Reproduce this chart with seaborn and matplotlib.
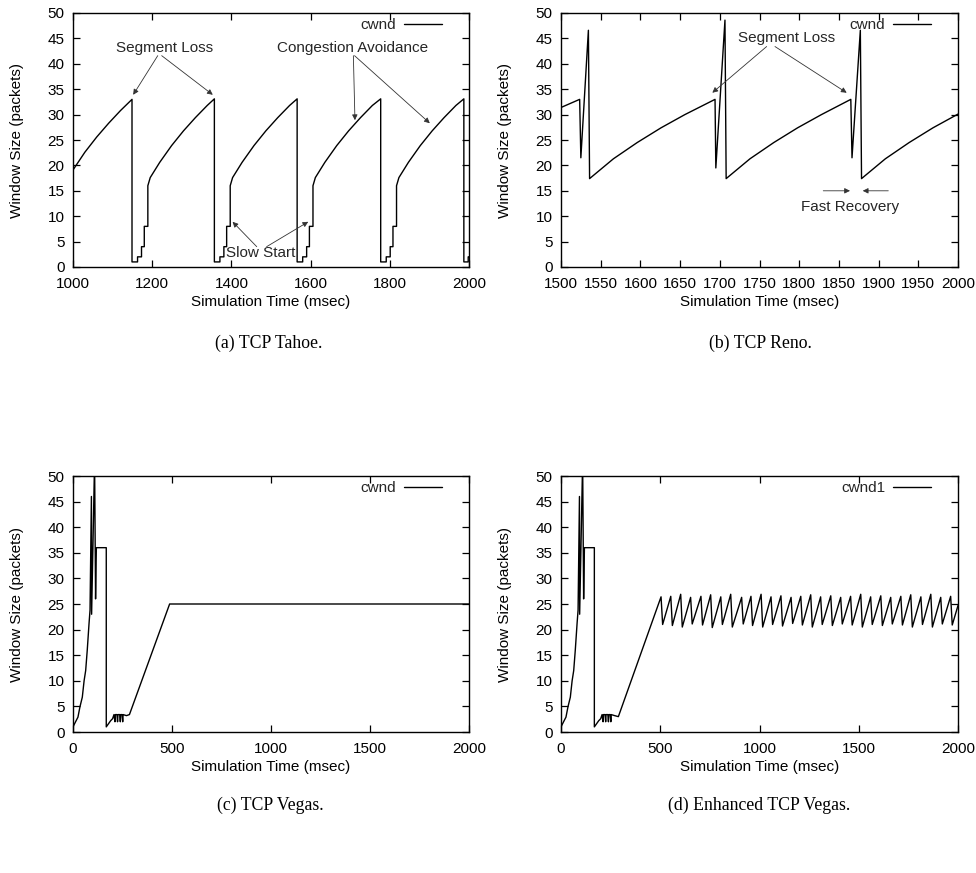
import matplotlib
matplotlib.use("Agg")
import matplotlib.pyplot as plt
import seaborn as sns

# ---------------- data ----------------
# (a) TCP Tahoe
tahoe_t = [1000, 1030, 1060, 1090, 1120, 1149,
           1149, 1163, 1163, 1173, 1173, 1180, 1180, 1189, 1189, 1195, 1219, 1249, 1279, 1309, 1339, 1357,
           1357, 1371, 1371, 1381, 1381, 1388, 1388, 1397, 1397, 1403, 1427, 1457, 1487, 1517, 1547, 1566,
           1566, 1580, 1580, 1590, 1590, 1597, 1597, 1606, 1606, 1612, 1636, 1666, 1696, 1726, 1756, 1777,
           1777, 1791, 1791, 1801, 1801, 1808, 1808, 1817, 1817, 1823, 1847, 1877, 1907, 1937, 1967, 1987,
           1987, 1998, 1998, 2000]
tahoe_w = [19.1, 22.6, 25.6, 28.3, 30.8, 33.0,
           1, 1, 2, 2, 4, 4, 8, 8, 16, 17.6, 20.6, 23.9, 26.8, 29.4, 31.8, 33.1,
           1, 1, 2, 2, 4, 4, 8, 8, 16, 17.6, 20.6, 23.9, 26.8, 29.4, 31.8, 33.1,
           1, 1, 2, 2, 4, 4, 8, 8, 16, 17.6, 20.6, 23.9, 26.8, 29.4, 31.8, 33.1,
           1, 1, 2, 2, 4, 4, 8, 8, 16, 17.6, 20.6, 23.9, 26.8, 29.4, 31.8, 33.1,
           1, 1, 2, 2]

# (b) TCP Reno
reno_t = [1500, 1523.5, 1525, 1534.5, 1536, 1566, 1596, 1626, 1656, 1694,
          1695, 1706.5, 1708, 1738, 1768, 1798, 1828, 1865,
          1866.5, 1877, 1878.5, 1908.5, 1938.5, 1968.5, 2000]
reno_w = [31.4, 33.0, 21.5, 46.6, 17.4, 21.3, 24.5, 27.4, 30.0, 33.0,
          19.5, 48.6, 17.4, 21.3, 24.5, 27.4, 30.0, 33.0,
          21.5, 46.6, 17.4, 21.3, 24.5, 27.4, 30.1]

# (c) TCP Vegas
vegas_t = [0, 13, 25, 35, 47, 56, 64, 72, 81, 86, 93, 94, 109, 114, 118, 168, 168,
           190, 200, 207, 212, 214, 222, 225, 227, 236, 239, 241, 248, 251, 253, 270, 285,
           488, 2000]
vegas_w = [1.0, 2.0, 2.9, 4.9, 6.8, 10.0, 12.0, 16.0, 21.2, 23.8, 46.0, 23.0, 53.0, 26.0, 36.0, 36.0, 1.0,
           2.2, 2.6, 3.4, 2.0, 3.4, 3.4, 2.0, 3.4, 3.4, 2.0, 3.4, 3.4, 2.0, 3.4, 3.2, 3.4,
           25.0, 25.0]

# (d) Enhanced TCP Vegas
evegas_t = [0, 13, 25, 35, 47, 56, 64, 72, 81, 86, 93, 94, 109, 114, 118, 168, 168,
            190, 200, 207, 212, 214, 222, 225, 227, 236, 239, 241, 248, 251, 253, 270, 289,
            504, 512, 553, 561, 603, 611, 653, 661, 705, 713, 754, 762, 805, 813, 855, 863,
            910, 918, 957, 965, 1008, 1016, 1058, 1066, 1108, 1116, 1159, 1167, 1208, 1216,
            1258, 1266, 1308, 1316, 1359, 1367, 1409, 1417, 1459, 1467, 1510, 1518, 1560, 1568,
            1611, 1619, 1661, 1669, 1712, 1720, 1762, 1770, 1813, 1821, 1863, 1871, 1913, 1921,
            1963, 1971, 2000]
evegas_w = [1.0, 2.0, 2.9, 4.9, 6.8, 10.0, 12.0, 16.0, 21.2, 23.8, 46.0, 23.0, 53.0, 26.0, 36.0, 36.0, 1.0,
            2.2, 2.6, 3.4, 2.0, 3.4, 3.4, 2.0, 3.4, 3.4, 2.0, 3.4, 3.4, 2.0, 3.4, 3.2, 3.0,
            26.4, 21.0, 26.5, 20.8, 26.9, 20.5, 26.3, 21.1, 26.5, 20.9, 26.8, 20.4, 26.4, 21.0, 26.9, 20.5,
            26.3, 21.1, 26.5, 20.8, 26.9, 20.5, 26.4, 21.0, 26.6, 20.7, 26.3, 21.2, 26.5, 20.9,
            26.8, 20.5, 26.4, 21.0, 26.6, 20.8, 26.3, 21.1, 26.5, 20.9, 26.9, 20.5, 26.4, 21.0,
            26.6, 20.8, 26.3, 21.1, 26.5, 20.9, 26.8, 20.5, 26.4, 21.0, 26.9, 20.5, 26.3, 21.1,
            26.5, 20.9, 24.7]

captions = ["(a) TCP Tahoe.", "(b) TCP Reno.", "(c) TCP Vegas.", "(d) Enhanced TCP Vegas."]
legend_labels = ["cwnd", "cwnd", "cwnd", "cwnd1"]
xlims = [(1000, 2000), (1500, 2000), (0, 2000), (0, 2000)]
xticks = [[1000, 1200, 1400, 1600, 1800, 2000],
          [1500, 1550, 1600, 1650, 1700, 1750, 1800, 1850, 1900, 1950, 2000],
          [0, 500, 1000, 1500, 2000],
          [0, 500, 1000, 1500, 2000]]
yticks = [0, 5, 10, 15, 20, 25, 30, 35, 40, 45, 50]
xlabel = "Simulation Time (msec)"
ylabel = "Window Size (packets)"

# ---------------- style ----------------
sns.set_theme(style="ticks")
plt.rcParams["font.family"] = ["Liberation Sans", "DejaVu Sans"]
FS = 11.0

W, H = 976, 873
fig = plt.figure(figsize=(W / 100, H / 100), dpi=100)

# axes boxes in pixels: left, right, top, bottom
boxes = [(73, 469, 13, 267), (561, 958, 13, 267), (73, 469, 476, 732), (561, 958, 476, 732)]
caption_pos = [(269, 343), (760, 343), (270, 805), (759, 805)]

series = [(tahoe_t, tahoe_w), (reno_t, reno_w), (vegas_t, vegas_w), (evegas_t, evegas_w)]
axes = []
for i, (l, r, t, b) in enumerate(boxes):
    ax = fig.add_axes([l / W, 1 - b / H, (r - l) / W, (b - t) / H])
    axes.append(ax)
    xs, ys = series[i]
    sns.lineplot(x=xs, y=ys, estimator=None, sort=False, ax=ax, color="black",
                 linewidth=1.0, label=legend_labels[i])
    ax.set_xlim(*xlims[i])
    ax.set_ylim(0, 50)
    ax.set_xticks(xticks[i])
    ax.set_yticks(yticks)
    ax.set_xticklabels([str(v) for v in xticks[i]], fontsize=FS)
    ax.set_yticklabels([str(v) for v in yticks], fontsize=FS)
    ax.tick_params(direction="in", top=True, right=True, length=5, width=0.9,
                   colors="black", labelcolor="black")
    ax.tick_params(axis="x", pad=7)
    ax.tick_params(axis="y", pad=6)
    for sp in ax.spines.values():
        sp.set_visible(True)
        sp.set_linewidth(1.0)
        sp.set_color("black")
    ax.set_xlabel(xlabel, fontsize=FS, color="black")
    ax.set_ylabel(ylabel, fontsize=FS, color="black")
    wpx = r - l
    hpx = b - t
    ax.xaxis.set_label_coords(0.5, -28 / hpx)
    ax.yaxis.set_label_coords(-49 / wpx, 0.5)
    leg = ax.legend(loc="upper right", bbox_to_anchor=(1 - 27 / wpx, 1 - 5 / hpx),
                    frameon=False, markerfirst=False, handlelength=2.5, handletextpad=0.5,
                    borderpad=0, borderaxespad=0, fontsize=FS)
    for line in leg.get_lines():
        line.set_linewidth(1.0)
    cx, cy = caption_pos[i]
    fig.text(cx / W, 1 - cy / H, captions[i], ha="center", va="center",
             family=["Liberation Serif", "DejaVu Serif"], fontsize=12.8, color="black")

arrow = dict(arrowstyle="-|>", color="#333333", lw=0.6, mutation_scale=8, shrinkA=0, shrinkB=0)

# (a) annotations
ax = axes[0]
ax.text(1230, 43.1, "Segment Loss", ha="center", va="center", fontsize=FS)
ax.annotate("", xy=(1152, 33.9), xytext=(1214, 41.6), arrowprops=arrow)
ax.annotate("", xy=(1353, 33.9), xytext=(1224, 41.6), arrowprops=arrow)
ax.text(1705, 43.1, "Congestion Avoidance", ha="center", va="center", fontsize=FS)
ax.annotate("", xy=(1712, 28.9), xytext=(1708, 41.6), arrowprops=arrow)
ax.annotate("", xy=(1901, 28.3), xytext=(1711, 41.6), arrowprops=arrow)
ax.text(1475, 2.75, "Slow Start", ha="center", va="center", fontsize=FS)
ax.annotate("", xy=(1403, 8.9), xytext=(1464, 4.0), arrowprops=arrow)
ax.annotate("", xy=(1594, 8.9), xytext=(1489, 4.0), arrowprops=arrow)

# (b) annotations
ax = axes[1]
ax.text(1784.6, 45.1, "Segment Loss", ha="center", va="center", fontsize=FS)
ax.annotate("", xy=(1690.6, 34.3), xytext=(1759, 43.4), arrowprops=arrow)
ax.annotate("", xy=(1859.8, 34.3), xytext=(1769.5, 43.4), arrowprops=arrow)
ax.text(1864.6, 11.9, "Fast Recovery", ha="center", va="center", fontsize=FS)
ax.annotate("", xy=(1864, 15), xytext=(1830.3, 15), arrowprops=arrow)
ax.annotate("", xy=(1880, 15), xytext=(1912.2, 15), arrowprops=arrow)

fig.savefig("out.png", dpi=100, facecolor="white")
